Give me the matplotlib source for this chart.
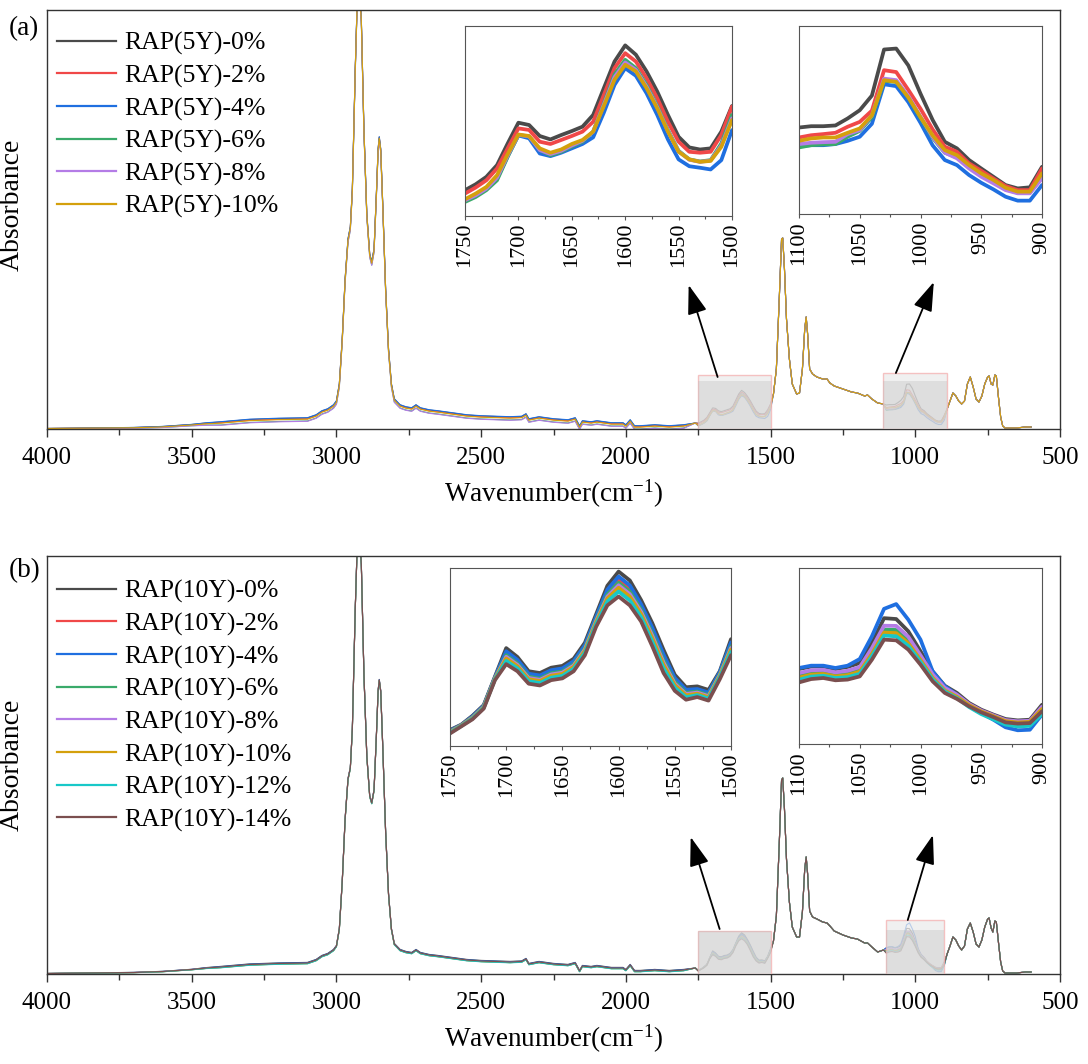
import numpy as np
import matplotlib
matplotlib.use("Agg")
import matplotlib.pyplot as plt
from matplotlib.ticker import MultipleLocator
from matplotlib.patches import Rectangle

plt.rcParams['font.family'] = ['Liberation Serif', 'DejaVu Serif']
plt.rcParams['mathtext.fontset'] = 'custom'
plt.rcParams['mathtext.rm'] = 'Liberation Serif'
plt.rcParams['mathtext.it'] = 'Liberation Serif:italic'

### main spectrum outside the two zoom windows (absorbance, a.u.)
wn_hi = [4000, 3900, 3800, 3700, 3600, 3500, 3450, 3400, 3300, 3200, 3100, 3070, 3050, 3030, 3010,
         3000, 2990, 2980, 2970, 2960, 2952, 2945, 2935, 2928, 2921, 2914, 2905, 2895, 2885, 2878,
         2870, 2862, 2856, 2852, 2847, 2840, 2830, 2820, 2810, 2800, 2780, 2760, 2740, 2725, 2710,
         2680, 2650, 2600, 2550, 2500, 2450, 2400, 2360, 2345, 2335, 2300, 2250, 2200, 2175, 2160,
         2150, 2120, 2100, 2050, 2010, 2000, 1985, 1970, 1950, 1900, 1850, 1800, 1760]
a_hi = [0.5, 0.8, 1.0, 1.5, 2.5, 4.5, 6, 7, 9.5, 10.5, 11, 14, 18, 20, 24,
        28, 45, 90, 150, 190, 202, 240, 360, 430, 440, 410, 300, 215, 175, 167,
        180, 235, 280, 292, 280, 225, 140, 80, 45, 30, 24, 22, 21, 24, 21,
        19, 18, 16, 14, 13, 12.5, 12, 12.5, 15, 10, 12, 10, 9, 11, 3,
        8, 7, 8, 6, 6, 4, 9, 3, 3, 4, 3, 4, 6]
b_hi = [0.5, 0.8, 1.0, 1.5, 2.5, 4.5, 6, 7, 9.5, 10.5, 11, 14, 18, 20, 24,
        28, 45, 92, 155, 195, 206, 245, 365, 430, 440, 410, 300, 218, 178, 171,
        184, 238, 283, 294, 283, 228, 142, 80, 45, 30, 24, 22, 21, 24, 21,
        19, 18, 16, 14, 13, 12.5, 12, 12.5, 15, 10, 12, 10, 9, 11, 3,
        8, 7, 8, 6, 6, 4, 9, 3, 3, 4, 3, 4, 6]

wn_mid = [1490, 1480, 1470, 1462, 1458, 1452, 1445, 1435, 1425, 1410, 1400, 1390, 1382, 1377, 1372,
          1365, 1355, 1340, 1320, 1305, 1295, 1280, 1250, 1220, 1200, 1175, 1165, 1150, 1130, 1110]
a_mid = [35, 60, 130, 190, 191, 160, 110, 70, 45, 35, 36, 60, 100, 112, 95,
         60, 55, 52, 50, 50, 46, 43, 40, 37, 36, 33, 34, 30, 26, 25]
b_mid = [33, 58, 130, 194, 196, 165, 115, 72, 47, 37, 37, 62, 105, 117, 100,
         63, 57, 55, 52, 51, 48, 43, 39, 36, 35, 31, 31, 27, 22, 24]

wn_lo = [890, 880, 870, 860, 850, 840, 830, 820, 810, 800, 790, 780, 770, 760, 750,
         745, 738, 732, 725, 720, 712, 705, 698, 690, 650, 620, 600]
a_lo = [20, 28, 36, 33, 28, 25, 28, 45, 52, 42, 30, 27, 33, 45, 52,
        53, 45, 44, 54, 53, 30, 12, 3, 1, 1, 2, 2]
b_lo = [20, 28, 37, 34, 28, 24, 28, 45, 51, 42, 30, 27, 34, 47, 55,
        56, 46, 42, 53, 52, 30, 12, 3, 1, 1, 2, 2]

# small baseline differences between samples (3400-1800 region)
shift_wn = [4000, 3500, 3400, 1800, 1760]
shift_w = [0, 0.4, 1, 1, 0]
shift_a = [0, -0.8, 0.3, -3.0, -3.3, -1.2]
shift_b = [0.6, -0.3, 0.3, -0.6, -0.4, -0.6, -0.8, 0]

### zoom windows (0-100 = inset height)
win1 = list(range(1750, 1499, -10))
win2 = list(range(1100, 899, -10))

a1_0 = [13.6, 16.7, 20.6, 26.8, 38.2, 49.1, 47.9, 42.1, 40.3, 42.6, 44.7, 47.0, 53.2, 67.3, 81.3, 89.8, 84.9, 76.1, 65.5, 53.2, 41.7, 36.1, 35.0, 35.6, 44.4, 57.9]
a1_2 = [11.8, 15.0, 18.8, 25.0, 35.6, 46.1, 45.3, 39.1, 37.9, 40.0, 42.1, 44.4, 49.6, 63.7, 77.8, 85.7, 81.3, 72.5, 62.0, 49.6, 39.1, 33.8, 33.3, 33.8, 42.6, 57.6]
a1_4 = [8.3, 10.9, 14.4, 19.7, 31.5, 42.4, 40.9, 32.9, 31.5, 33.3, 35.6, 37.9, 41.4, 54.4, 69.0, 77.8, 73.8, 64.6, 53.2, 40.3, 29.8, 26.2, 25.4, 24.5, 29.4, 45.2]
a1_6 = [7.4, 10.0, 13.6, 18.8, 31.2, 42.6, 41.8, 34.7, 32.0, 33.8, 36.6, 39.1, 44.4, 59.3, 74.5, 82.2, 77.8, 69.0, 57.9, 45.2, 34.3, 29.8, 28.7, 29.4, 38.2, 53.2]
a1_8 = [8.3, 10.9, 14.4, 20.2, 31.9, 42.7, 41.9, 34.7, 32.6, 34.3, 37.1, 39.6, 44.4, 58.6, 73.1, 80.8, 76.9, 68.1, 57.2, 44.7, 34.0, 29.6, 28.5, 29.2, 37.1, 51.4]
a1_10 = [8.8, 11.8, 15.3, 21.5, 32.6, 42.9, 42.1, 35.6, 33.3, 35.0, 37.9, 40.0, 44.4, 57.9, 71.7, 79.6, 76.1, 67.3, 56.7, 44.4, 33.8, 29.8, 28.5, 29.0, 36.4, 50.5]

a2_0 = [46.0, 46.7, 46.7, 47.1, 50.8, 55.2, 63.0, 87.5, 88.0, 79.0, 64.0, 50.0, 38.4, 34.9, 28.7, 24.2, 19.8, 15.4, 13.6, 14.2, 25.1]
a2_2 = [40.7, 41.9, 42.5, 43.2, 46.4, 49.0, 55.0, 76.5, 75.5, 66.0, 56.0, 45.0, 35.8, 33.1, 26.9, 23.0, 18.9, 14.9, 12.7, 12.7, 24.2]
a2_4 = [36.1, 36.6, 36.6, 37.2, 38.9, 41.1, 48.0, 69.0, 68.0, 59.5, 48.5, 36.5, 28.7, 26.0, 20.7, 16.6, 13.1, 9.2, 7.1, 7.1, 15.4]
a2_6 = [35.4, 36.6, 37.0, 37.2, 41.1, 44.2, 51.5, 70.8, 70.3, 62.0, 51.0, 40.5, 32.6, 30.1, 25.1, 20.7, 17.2, 13.1, 11.3, 11.3, 19.8]
a2_8 = [37.2, 37.9, 38.2, 38.4, 42.5, 44.6, 52.5, 72.0, 71.2, 62.8, 51.8, 41.0, 32.6, 29.6, 24.2, 19.8, 16.3, 12.7, 11.0, 11.0, 18.9]
a2_10 = [38.9, 40.2, 40.7, 40.7, 43.2, 45.5, 52.5, 71.2, 70.3, 62.0, 51.5, 41.8, 34.0, 31.3, 26.0, 21.6, 18.1, 14.0, 11.9, 11.9, 21.6]

b1_0 = [9, 12, 17, 23, 39, 55, 50, 42, 41, 44, 45, 49, 58, 74, 90, 98, 93, 82, 69, 54, 40, 33, 33.5, 31.5, 42, 60]
b1_2 = [8.3, 11.7, 16.3, 22.3, 38.3, 51.9, 47.2, 39.6, 38.6, 41.6, 42.6, 46.6, 55.6, 71.6, 86.2, 93.1, 88.1, 77.8, 64.5, 49.5, 36.9, 30.6, 31.3, 29.3, 40.8, 56.9]
b1_4 = [8.6, 11.8, 16.6, 22.6, 38.6, 53.2, 48.4, 40.6, 39.6, 42.6, 43.6, 47.6, 56.6, 72.6, 87.8, 95.2, 90.2, 79.6, 66.4, 51.4, 38.2, 31.6, 32.0, 30.0, 41.5, 58.2]
b1_6 = [8.1, 11.6, 16.1, 22.1, 38.1, 51.0, 46.4, 38.9, 37.9, 40.9, 41.9, 45.9, 54.9, 70.9, 85.1, 91.7, 86.7, 76.6, 63.2, 48.2, 36.0, 29.9, 30.6, 28.6, 40.3, 56.0]
b1_8 = [7.9, 11.5, 15.9, 21.9, 37.9, 50.1, 45.6, 38.2, 37.2, 40.2, 41.2, 45.2, 54.2, 70.2, 83.9, 90.3, 85.3, 75.4, 61.9, 46.9, 35.0, 29.2, 30.0, 28.0, 39.8, 55.1]
b1_10 = [7.7, 11.4, 15.7, 21.7, 37.7, 49.2, 44.8, 37.5, 36.5, 39.5, 40.5, 44.5, 53.5, 69.5, 82.9, 88.9, 83.9, 74.2, 60.6, 45.6, 34.2, 28.5, 29.4, 27.4, 39.3, 54.2]
b1_12 = [7.4, 11.2, 15.4, 21.4, 37.4, 47.8, 43.6, 36.4, 35.4, 38.4, 39.4, 43.4, 52.4, 68.4, 81.2, 86.8, 81.8, 72.4, 58.6, 43.6, 32.8, 27.4, 28.6, 26.6, 38.6, 52.8]
b1_14 = [7, 11, 15, 21, 37, 46, 42, 35, 34, 37, 38, 42, 51, 67, 79, 84, 79, 70, 56, 41, 31, 26, 27.5, 25.5, 37.5, 51]

b2_0 = [42.6, 44.0, 44.1, 42.6, 43.8, 46.0, 57.4, 71.5, 71.0, 64.0, 52.7, 41.3, 33.1, 29.0, 23.3, 19.5, 16.7, 14.2, 13.4, 13.8, 22.3]
b2_2 = [38.4, 40.1, 40.5, 39.1, 39.8, 41.8, 52.2, 64.4, 64.2, 58.3, 48.5, 38.2, 30.8, 27.1, 22.3, 18.7, 15.9, 13.2, 12.4, 12.8, 20.3]
b2_4 = [43.2, 44.5, 44.5, 43.2, 44.5, 48.3, 61.2, 76.8, 79.5, 70.6, 59.3, 41.3, 32.8, 28.0, 22.3, 17.6, 13.8, 9.5, 7.8, 8.1, 16.7]
b2_6 = [38.8, 40.5, 40.8, 39.4, 40.2, 42.2, 52.7, 65.0, 64.8, 58.8, 48.9, 38.5, 31.0, 27.0, 21.5, 17.5, 14.5, 11.5, 10.5, 10.8, 18.0]
b2_8 = [40.3, 41.9, 42.1, 40.7, 41.6, 43.7, 54.5, 67.2, 67.1, 60.9, 50.4, 39.6, 31.9, 28.0, 22.7, 19.0, 16.3, 13.6, 12.9, 13.2, 21.2]
b2_10 = [37.7, 39.4, 39.8, 38.4, 39.1, 41.1, 51.2, 63.3, 63.0, 57.2, 47.8, 37.6, 30.4, 26.8, 22.1, 18.5, 15.8, 13.0, 12.2, 12.6, 19.9]
b2_12 = [36.5, 38.3, 38.8, 37.5, 38.0, 39.9, 49.8, 61.6, 61.2, 55.7, 46.6, 36.7, 29.8, 26.0, 21.0, 17.0, 14.0, 11.0, 10.0, 10.3, 17.0]
b2_14 = [35.0, 36.9, 37.5, 36.2, 36.6, 38.4, 47.9, 59.3, 58.9, 53.6, 45.1, 35.6, 29.0, 25.6, 21.4, 18.0, 15.3, 12.3, 11.6, 11.9, 18.6]

# inset unit -> main absorbance (offset, factor)
scale_a1 = (0.0, 0.43)
scale_a2 = (1.0, 0.50)
scale_b1 = (0.0, 0.42)
scale_b2 = (-3.0, 0.68)

labels_a = ["RAP(5Y)-0%", "RAP(5Y)-2%", "RAP(5Y)-4%", "RAP(5Y)-6%", "RAP(5Y)-8%", "RAP(5Y)-10%"]
labels_b = ["RAP(10Y)-0%", "RAP(10Y)-2%", "RAP(10Y)-4%", "RAP(10Y)-6%", "RAP(10Y)-8%",
            "RAP(10Y)-10%", "RAP(10Y)-12%", "RAP(10Y)-14%"]
colors = ["#4a4a4a", "#f04848", "#1f6fe0", "#3aaa6a", "#b47ce6", "#d4a00c", "#18c8c8", "#7b4f4f"]

win1_a = [a1_0, a1_2, a1_4, a1_6, a1_8, a1_10]
win2_a = [a2_0, a2_2, a2_4, a2_6, a2_8, a2_10]
win1_b = [b1_0, b1_2, b1_4, b1_6, b1_8, b1_10, b1_12, b1_14]
win2_b = [b2_0, b2_2, b2_4, b2_6, b2_8, b2_10, b2_12, b2_14]

# boxes: (x0, x1, top, band) and arrows: (tail, tip)
boxes_a = [(1750, 1500, 54, 48), (1110, 890, 56, 48)]
boxes_b = [(1750, 1500, 43, 43), (1100, 900, 54, 44)]
arrows_a = [((1683, 52), (1783, 144)), ((1067, 56), (936, 147))]
arrows_b = [((1676, 45), (1776, 137)), ((1026, 54), (939, 139))]

W, H = 1088, 1064
fig = plt.figure(figsize=(W / 100, H / 100), dpi=100)


def main_panel(rect, hi, mid, lo, w1, w2, s1, s2, shifts, labels, boxes, arrows, top):
    ax = fig.add_axes(rect)
    wn = np.concatenate([wn_hi, win1, wn_mid, win2, wn_lo])
    wts = np.interp(wn_hi, shift_wn[::-1], shift_w[::-1])
    for i, lab in enumerate(labels):
        y = np.concatenate([np.array(hi) + shifts[i] * wts,
                            s1[0] + s1[1] * np.array(w1[i]),
                            mid,
                            s2[0] + s2[1] * np.array(w2[i]),
                            lo])
        ax.plot(wn, y, color=colors[i], lw=0.8, label=lab)
    for x0, x1, t, band in boxes:
        ax.add_patch(Rectangle((x1, 0), x0 - x1, t, fc="#ebebeb", ec="#f4b0b0", lw=1.0,
                               alpha=0.75, zorder=3))
        ax.add_patch(Rectangle((x1, 0), x0 - x1, band, fc="#bdbdbd", ec="none", alpha=0.35, zorder=3))
    for tail, tip in arrows:
        ax.annotate("", xy=tip, xytext=tail,
                    arrowprops=dict(arrowstyle="-|>,head_length=0.9,head_width=0.3", color="k",
                                    lw=1.3, shrinkA=0, shrinkB=0, mutation_scale=20))
    ax.set_xlim(4000, 500)
    ax.set_ylim(0, top)
    ax.xaxis.set_major_locator(MultipleLocator(500))
    ax.xaxis.set_minor_locator(MultipleLocator(250))
    ax.tick_params(axis="x", which="major", direction="out", length=6, width=1, labelsize=18, pad=7,
                   color="#333333")
    ax.tick_params(axis="x", which="minor", direction="out", length=4, width=1, color="#333333")
    ax.tick_params(axis="y", left=False, labelleft=False)
    for sp in ax.spines.values():
        sp.set_color("#333333")
        sp.set_linewidth(1.0)
    ax.set_xlabel("Wavenumber(cm$^{-1}$)", fontsize=19.5, labelpad=6)
    ax.set_ylabel("Absorbance", fontsize=20)
    return ax


def inset(rect, grid, series, xlim, step):
    ins = fig.add_axes(rect)
    for i, vals in enumerate(series):
        ins.plot(grid, vals, color=colors[i], lw=2.7, solid_joinstyle="round", solid_capstyle="round")
    ins.set_xlim(*xlim)
    ins.set_ylim(0, 100)
    ins.set_yticks([])
    ins.xaxis.set_major_locator(MultipleLocator(step))
    ins.xaxis.set_minor_locator(MultipleLocator(step / 2))
    ins.tick_params(axis="x", which="major", direction="out", length=3, width=0.8, labelsize=16,
                    labelrotation=90, pad=2, color="#555555")
    ins.tick_params(axis="x", which="minor", direction="out", length=2, width=0.8, color="#555555")
    for sp in ins.spines.values():
        sp.set_color("#555555")
        sp.set_linewidth(0.8)
    return ins


ax_a = main_panel([47 / W, 1 - 429 / H, 1013 / W, 419 / H], a_hi, a_mid, a_lo, win1_a, win2_a,
                  scale_a1, scale_a2, shift_a, labels_a, boxes_a, arrows_a, 419)
ax_b = main_panel([47 / W, 1 - 974 / H, 1013 / W, 418 / H], b_hi, b_mid, b_lo, win1_b, win2_b,
                  scale_b1, scale_b2, shift_b, labels_b, boxes_b, arrows_b, 418)
ax_a.yaxis.set_label_coords(-0.022, 0.535)
ax_b.yaxis.set_label_coords(-0.022, 0.5)

for ax, y0 in [(ax_a, 0.948), (ax_b, 0.943)]:
    leg = ax.legend(loc="upper left", bbox_to_anchor=(0.0099, y0), frameon=False, fontsize=18.5,
                    handlelength=2.3, handletextpad=0.3, labelspacing=0.36, borderpad=0,
                    borderaxespad=0)
    for ln in leg.get_lines():
        ln.set_linewidth(1.6)

inset([465 / W, 1 - 216 / H, 267 / W, 190 / H], win1, win1_a, (1750, 1500), 50)
inset([799 / W, 1 - 214 / H, 243 / W, 188 / H], win2, win2_a, (1100, 900), 50)
inset([450 / W, 1 - 746 / H, 281 / W, 178 / H], win1, win1_b, (1750, 1500), 50)
inset([799 / W, 1 - 744 / H, 243 / W, 176 / H], win2, win2_b, (1100, 900), 50)

fig.text(24 / W, 1 - 29 / H, "(a)", ha="center", va="center", fontsize=19.5)
fig.text(25 / W, 1 - 571 / H, "(b)", ha="center", va="center", fontsize=19.5)

fig.savefig("out.png", dpi=100)
